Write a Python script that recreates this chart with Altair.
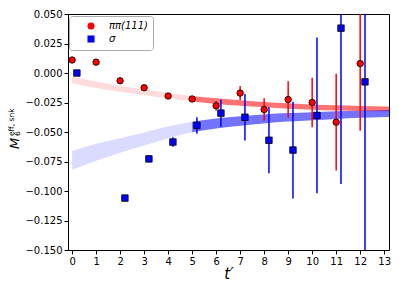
import altair as alt
import pandas as pd

# ---- data ----
pp_t = [0, 1, 2, 3, 4, 5, 6, 7, 8, 9, 10, 11, 12]
pp_val = [0.011, 0.0092, -0.0066, -0.0125, -0.0195, -0.022, -0.0278, -0.017, -0.031, -0.0225, -0.025, -0.0417, 0.008]
pp_err = [0.0008, 0.0008, 0.001, 0.001, 0.0012, 0.0015, 0.004, 0.006, 0.0095, 0.0155, 0.021, 0.041, 0.057]

sig_t = [0.2, 2.2, 3.2, 4.2, 5.2, 6.2, 7.2, 8.2, 9.2, 10.2, 11.2, 12.2]
sig_val = [0.0, -0.106, -0.0728, -0.0585, -0.0444, -0.034, -0.0375, -0.057, -0.0653, -0.036, 0.038, -0.0075]
sig_err = [0.0008, 0.002, 0.003, 0.004, 0.007, 0.0115, 0.0197, 0.028, 0.041, 0.066, 0.132, 0.2]

band_t = [0, 1, 2, 3, 4, 5, 6, 7, 8, 9, 10, 11, 12, 13, 14]
red_c = [-0.0058, -0.0100, -0.0133, -0.0163, -0.0192, -0.0218, -0.0238, -0.0254, -0.0268, -0.0280, -0.0289, -0.0295, -0.0300, -0.0304, -0.0307]
red_h = [0.0028, 0.0027, 0.0025, 0.0023, 0.0022, 0.0024, 0.0024, 0.0024, 0.0023, 0.0023, 0.0022, 0.0022, 0.0021, 0.0021, 0.0021]
blue_c = [-0.0740, -0.0672, -0.0614, -0.0560, -0.0502, -0.0458, -0.0428, -0.0406, -0.0389, -0.0376, -0.0366, -0.0357, -0.0350, -0.0344, -0.0340]
blue_h = [0.0080, 0.0072, 0.0062, 0.0055, 0.0050, 0.0045, 0.0042, 0.0040, 0.0038, 0.0036, 0.0034, 0.0032, 0.0030, 0.0029, 0.0029]
fit_start = 5

series_names = ["ππ(111)", "σ"]
series_colors = ["#ff0000", "#0000ff"]
series_shapes = ["circle", "square"]

x_ticks = [0, 1, 2, 3, 4, 5, 6, 7, 8, 9, 10, 11, 12, 13]
y_ticks = [-0.15, -0.125, -0.1, -0.075, -0.05, -0.025, 0.0, 0.025, 0.05]

# ---- tables ----
pts = pd.DataFrame({
    "t": pp_t + sig_t,
    "v": pp_val + sig_val,
    "lo": [v - e for v, e in zip(pp_val, pp_err)] + [v - e for v, e in zip(sig_val, sig_err)],
    "hi": [v + e for v, e in zip(pp_val, pp_err)] + [v + e for v, e in zip(sig_val, sig_err)],
    "series": [series_names[0]] * len(pp_t) + [series_names[1]] * len(sig_t),
})

rows = []
for i, t in enumerate(band_t):
    for name, c, h in ((series_names[0], red_c, red_h), (series_names[1], blue_c, blue_h)):
        if t <= fit_start:
            rows.append({"t": t, "lo": c[i] - h[i], "hi": c[i] + h[i], "series": name, "part": "light"})
        if t >= fit_start:
            rows.append({"t": t, "lo": c[i] - h[i], "hi": c[i] + h[i], "series": name, "part": "dark"})
band = pd.DataFrame(rows)

xs = alt.Scale(domain=[-0.17, 13.2], nice=False, zero=False)
ys = alt.Scale(domain=[-0.15, 0.05], nice=False, zero=False)
cs = alt.Scale(domain=series_names, range=series_colors)
ss = alt.Scale(domain=series_names, range=series_shapes)

x_axis = alt.Axis(values=x_ticks, title="t′", titleFontStyle="italic", titleFontSize=15,
                  titleFontWeight="normal", titlePadding=0, format="d", labelOverlap=False,
                  tickCount=14)
y_axis = alt.Axis(values=y_ticks, title=None, labelOverlap=False,
                  labelExpr="replace(format(datum.value, '.3f'), '-', '−')")

X = lambda f: alt.X(f, scale=xs, axis=x_axis)
Y = lambda f: alt.Y(f, scale=ys, axis=y_axis)

layers = []
for k, name in enumerate(series_names):
    for part, op in (("light", 0.14), ("dark", 0.55)):
        layers.append(
            alt.Chart(band).transform_filter(
                (alt.datum.part == part) & (alt.datum.series == name)
            ).mark_area(opacity=op, clip=True, interpolate="monotone", color=series_colors[k]).encode(
                x=X("t:Q"), y=Y("lo:Q"), y2="hi:Q",
            )
        )

for k, name in enumerate(series_names):
    layers.append(
        alt.Chart(pts).transform_filter(alt.datum.series == name).mark_rule(
            strokeWidth=1.5, clip=True, color=series_colors[k]
        ).encode(x=X("t:Q"), y=Y("lo:Q"), y2="hi:Q")
    )

points = alt.Chart(pts).mark_point(
    filled=True, stroke="black", strokeWidth=0.8, size=42, opacity=1, clip=True
).encode(
    x=X("t:Q"),
    y=Y("v:Q"),
    color=alt.Color("series:N", scale=cs, sort=series_names, legend=alt.Legend(title=None)),
    shape=alt.Shape("series:N", scale=ss, sort=series_names, legend=alt.Legend(title=None)),
)
layers.append(points)

def label(txt, x, y, size, style="normal"):
    return alt.Chart(pd.DataFrame({"s": [txt]})).mark_text(
        angle=270, align="left", baseline="alphabetic", fontSize=size,
        fontStyle=style, font="DejaVu Sans", color="black"
    ).encode(x=alt.value(x), y=alt.value(y), text="s:N")

layers += [label("M", -49, 135, 13, "italic"), label("6", -48, 122, 7.5), label("eff, snk", -54, 122, 7.5)]

chart = alt.layer(*layers).properties(
    width=321, height=236,
    autosize=alt.AutoSizeParams(type="none"),
    padding={"left": 60, "top": 6, "right": 2, "bottom": 36},
).configure_view(
    stroke="black", strokeWidth=1
).configure_axis(
    grid=False, domainColor="black", tickColor="black", labelColor="black",
    titleColor="black", labelFont="DejaVu Sans", titleFont="DejaVu Sans",
    labelFontSize=10, tickSize=4, labelPadding=2, domainWidth=1
).configure_axisX(
    labelOverlap=False, tickCount=14
).configure_legend(
    orient="none", legendX=1, legendY=2, fillColor="white", strokeColor="#aaaaaa",
    cornerRadius=3, padding=5, symbolOffset=12, symbolSize=50, symbolStrokeColor="black",
    symbolStrokeWidth=0.8, labelFont="DejaVu Sans", labelFontSize=10, labelFontStyle="italic",
    labelColor="black", labelOffset=13, rowPadding=1, symbolOpacity=1
)

chart.save("out.html", embed_options={"renderer": "svg", "actions": False})
